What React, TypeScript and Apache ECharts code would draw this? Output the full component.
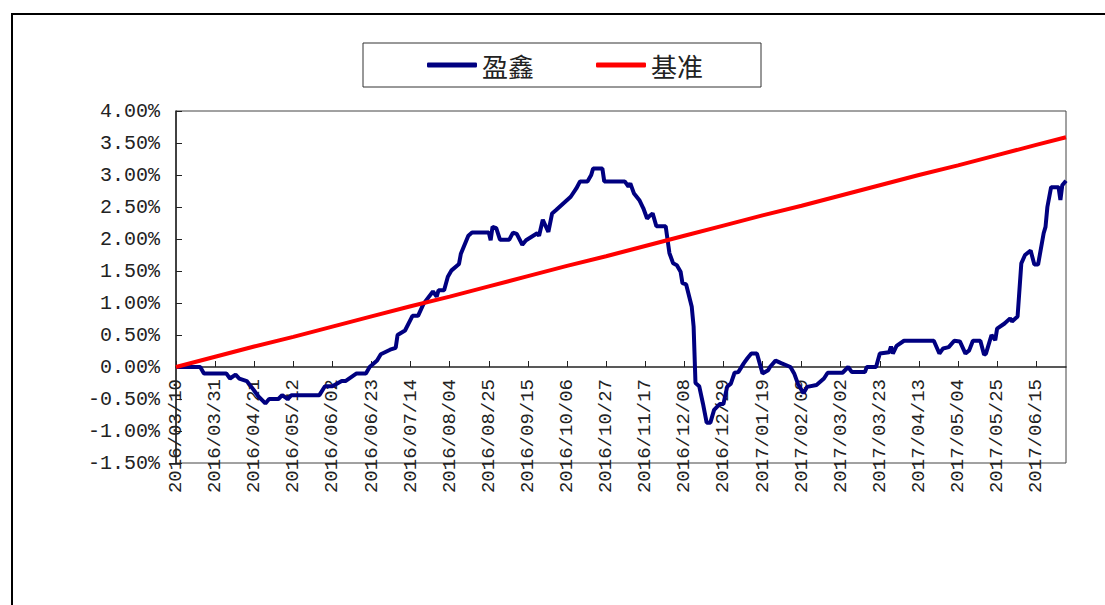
import React, { useEffect, useRef } from "react";
import * as echarts from "echarts";

// ---- data ----
const START_DATE = "2016/03/10";
const END_DATE = "2017/07/01";

const yingxinDates = [
  "2016/03/10","2016/03/23","2016/03/25","2016/04/06","2016/04/08","2016/04/11","2016/04/13","2016/04/17","2016/04/20","2016/04/23",
  "2016/04/27","2016/04/29","2016/05/04","2016/05/06","2016/05/09","2016/05/11","2016/05/26","2016/05/29","2016/06/02","2016/06/07",
  "2016/06/09","2016/06/15","2016/06/20","2016/06/22","2016/06/26","2016/06/28","2016/07/03","2016/07/06","2016/07/07","2016/07/11",
  "2016/07/15","2016/07/18","2016/07/21","2016/07/26","2016/07/28","2016/07/29","2016/08/01","2016/08/03","2016/08/05","2016/08/09",
  "2016/08/10","2016/08/14","2016/08/16","2016/08/25","2016/08/26","2016/08/27","2016/08/29","2016/08/31","2016/09/05","2016/09/07",
  "2016/09/09","2016/09/12","2016/09/14","2016/09/20","2016/09/21","2016/09/23","2016/09/26","2016/09/28","2016/09/30","2016/10/08",
  "2016/10/11","2016/10/13","2016/10/17","2016/10/19","2016/10/20","2016/10/25","2016/10/26","2016/11/06","2016/11/08","2016/11/09",
  "2016/11/11","2016/11/14","2016/11/16","2016/11/18","2016/11/19","2016/11/21","2016/11/23","2016/11/28","2016/11/30","2016/12/02",
  "2016/12/04","2016/12/06","2016/12/07","2016/12/09","2016/12/12","2016/12/13","2016/12/14","2016/12/16","2016/12/18","2016/12/20",
  "2016/12/22","2016/12/24","2016/12/27","2016/12/29","2016/12/31","2017/01/02","2017/01/04","2017/01/06","2017/01/09","2017/01/11",
  "2017/01/13","2017/01/16","2017/01/19","2017/01/22","2017/01/23","2017/01/26","2017/01/29","2017/02/03","2017/02/05","2017/02/07",
  "2017/02/10","2017/02/12","2017/02/17","2017/02/21","2017/02/23","2017/03/03","2017/03/06","2017/03/08","2017/03/15","2017/03/16",
  "2017/03/21","2017/03/23","2017/03/28","2017/03/29","2017/03/30","2017/04/01","2017/04/05","2017/04/21","2017/04/24","2017/04/26",
  "2017/04/29","2017/05/02","2017/05/05","2017/05/08","2017/05/10","2017/05/12","2017/05/16","2017/05/18","2017/05/19","2017/05/22",
  "2017/05/24","2017/05/25","2017/05/29","2017/06/01","2017/06/02","2017/06/05","2017/06/07","2017/06/09","2017/06/12","2017/06/14",
  "2017/06/16","2017/06/19","2017/06/20","2017/06/21","2017/06/23","2017/06/27","2017/06/28","2017/06/29","2017/07/01",
];
const yingxinValues = [
  0, 0, -0.1, -0.1, -0.18, -0.12, -0.18, -0.22, -0.33, -0.45,
  -0.57, -0.5, -0.5, -0.44, -0.5, -0.44, -0.44, -0.3, -0.3, -0.22,
  -0.22, -0.1, -0.1, 0, 0.1, 0.2, 0.27, 0.3, 0.5, 0.57,
  0.8, 0.8, 0.99, 1.18, 1.1, 1.2, 1.2, 1.41, 1.51, 1.61,
  1.77, 2.05, 2.1, 2.1, 1.98, 2.19, 2.17, 1.99, 1.99, 2.1,
  2.08, 1.91, 1.98, 2.09, 2.05, 2.3, 2.11, 2.4, 2.45, 2.66,
  2.79, 2.9, 2.9, 3.0, 3.1, 3.1, 2.9, 2.9, 2.82, 2.87,
  2.71, 2.6, 2.48, 2.32, 2.35, 2.4, 2.2, 2.2, 1.78, 1.62,
  1.59, 1.49, 1.31, 1.29, 0.94, 0.63, -0.25, -0.3, -0.57, -0.87,
  -0.87, -0.67, -0.58, -0.58, -0.31, -0.26, -0.09, -0.08, 0.06, 0.14,
  0.21, 0.21, -0.1, -0.05, 0.0, 0.1, 0.06, 0.0, -0.1, -0.26,
  -0.41, -0.31, -0.28, -0.18, -0.09, -0.09, 0.0, -0.08, -0.08, 0.0,
  0.0, 0.21, 0.23, 0.32, 0.21, 0.33, 0.41, 0.41, 0.21, 0.29,
  0.31, 0.41, 0.4, 0.21, 0.26, 0.41, 0.41, 0.19, 0.21, 0.5,
  0.42, 0.6, 0.68, 0.76, 0.71, 0.79, 1.62, 1.75, 1.82, 1.6,
  1.6, 2.09, 2.19, 2.5, 2.81, 2.81, 2.61, 2.84, 2.91,
];

const benchmarkDates = [
  "2016/03/10","2016/03/31","2016/04/21","2016/05/12","2016/06/02","2016/06/23","2016/07/14","2016/08/04",
  "2016/08/25","2016/09/15","2016/10/06","2016/10/27","2016/11/17","2016/12/08","2016/12/29","2017/01/19",
  "2017/02/09","2017/03/02","2017/03/23","2017/04/13","2017/05/04","2017/05/25","2017/06/15","2017/07/01",
];
const benchmarkValues = [
  0.0, 0.16, 0.32, 0.47, 0.63, 0.79, 0.95, 1.1,
  1.26, 1.42, 1.58, 1.73, 1.89, 2.05, 2.21, 2.37,
  2.52, 2.68, 2.84, 3.0, 3.15, 3.31, 3.47, 3.59,
];

const SERIES_NAMES = ["盈鑫", "基准"];

const Y_MIN = -1.5;
const Y_MAX = 4;
const Y_STEP = 0.5;

function pad(n: number) {
  return n < 10 ? "0" + n : "" + n;
}
function buildCategories(start: string, end: string): string[] {
  const [sy, sm, sd] = start.split("/").map(Number);
  const [ey, em, ed] = end.split("/").map(Number);
  const out: string[] = [];
  let t = Date.UTC(sy, sm - 1, sd);
  const te = Date.UTC(ey, em - 1, ed);
  while (t <= te) {
    const d = new Date(t);
    out.push(d.getUTCFullYear() + "/" + pad(d.getUTCMonth() + 1) + "/" + pad(d.getUTCDate()));
    t += 86400000;
  }
  return out;
}
function alignTo(categories: string[], dates: string[], values: number[]) {
  const idx = new Map(categories.map((c, i) => [c, i] as [string, number]));
  const arr: (number | null)[] = new Array(categories.length).fill(null);
  dates.forEach((d, k) => {
    const i = idx.get(d);
    if (i !== undefined) arr[i] = values[k];
  });
  return arr;
}

const GRID_TOP = 111;
const GRID_BOTTOM_PX = 463;

export default function App() {
  const ref = useRef<HTMLDivElement>(null);
  useEffect(() => {
    if (!ref.current) return;
    const chart = echarts.init(ref.current, null, { renderer: "svg" });
    const categories = buildCategories(START_DATE, END_DATE);
    const yingxin = alignTo(categories, yingxinDates, yingxinValues);
    const benchmark = alignTo(categories, benchmarkDates, benchmarkValues);
    const axisFont = "'Liberation Mono', 'DejaVu Sans Mono', monospace";
    // distance from grid bottom up to the zero line
    const zeroOffset = ((0 - Y_MIN) / (Y_MAX - Y_MIN)) * (GRID_BOTTOM_PX - GRID_TOP);
    chart.setOption({
      animation: false,
      backgroundColor: "#ffffff",
      graphic: [
        {
          type: "rect",
          shape: { x: 12, y: 14, width: 1200, height: 700 },
          style: { fill: "none", stroke: "#000", lineWidth: 2 },
          silent: true,
        },
      ],
      legend: {
        left: 363,
        top: 43,
        padding: [9, 58, 9, 64],
        borderColor: "#333",
        borderWidth: 1,
        itemWidth: 50,
        itemHeight: 5,
        itemGap: 62,
        icon: "roundRect",
        data: SERIES_NAMES,
        textStyle: {
          fontFamily: "'Noto Sans CJK SC', sans-serif",
          fontSize: 26,
          color: "#222",
        },
      },
      grid: {
        left: 176,
        top: GRID_TOP,
        right: 39,
        bottom: 605 - GRID_BOTTOM_PX,
        show: true,
        borderColor: "#444",
        borderWidth: 1,
        containLabel: false,
      },
      xAxis: {
        type: "category",
        data: categories,
        boundaryGap: false,
        position: "bottom",
        offset: -zeroOffset,
        axisLine: { onZero: false, lineStyle: { color: "#222", width: 1.5 } },
        axisTick: { show: true, inside: true, length: 6, interval: 20, lineStyle: { color: "#222" } },
        axisLabel: {
          interval: 20,
          rotate: 90,
          margin: 12,
          fontFamily: axisFont,
          fontSize: 19,
          color: "#222",
        },
        splitLine: { show: false },
      },
      yAxis: {
        type: "value",
        min: Y_MIN,
        max: Y_MAX,
        interval: Y_STEP,
        axisLine: { show: true, lineStyle: { color: "#222", width: 1.5 } },
        axisTick: { show: true, inside: true, length: 6, lineStyle: { color: "#222" } },
        axisLabel: {
          formatter: (v: number) => v.toFixed(2) + "%",
          margin: 16,
          fontFamily: axisFont,
          fontSize: 20,
          color: "#222",
        },
        splitLine: { show: false },
      },
      series: [
        {
          name: SERIES_NAMES[0],
          type: "line",
          data: yingxin,
          connectNulls: true,
          symbol: "none",
          lineStyle: { color: "#000080", width: 4 },
          itemStyle: { color: "#000080" },
        },
        {
          name: SERIES_NAMES[1],
          type: "line",
          data: benchmark,
          connectNulls: true,
          symbol: "none",
          lineStyle: { color: "#ff0000", width: 4 },
          itemStyle: { color: "#ff0000" },
        },
      ],
    });
    return () => chart.dispose();
  }, []);
  return (
    <div
      ref={ref}
      style={{ position: "fixed", left: 0, top: 0, width: 1105, height: 605, background: "#fff" }}
    />
  );
}
